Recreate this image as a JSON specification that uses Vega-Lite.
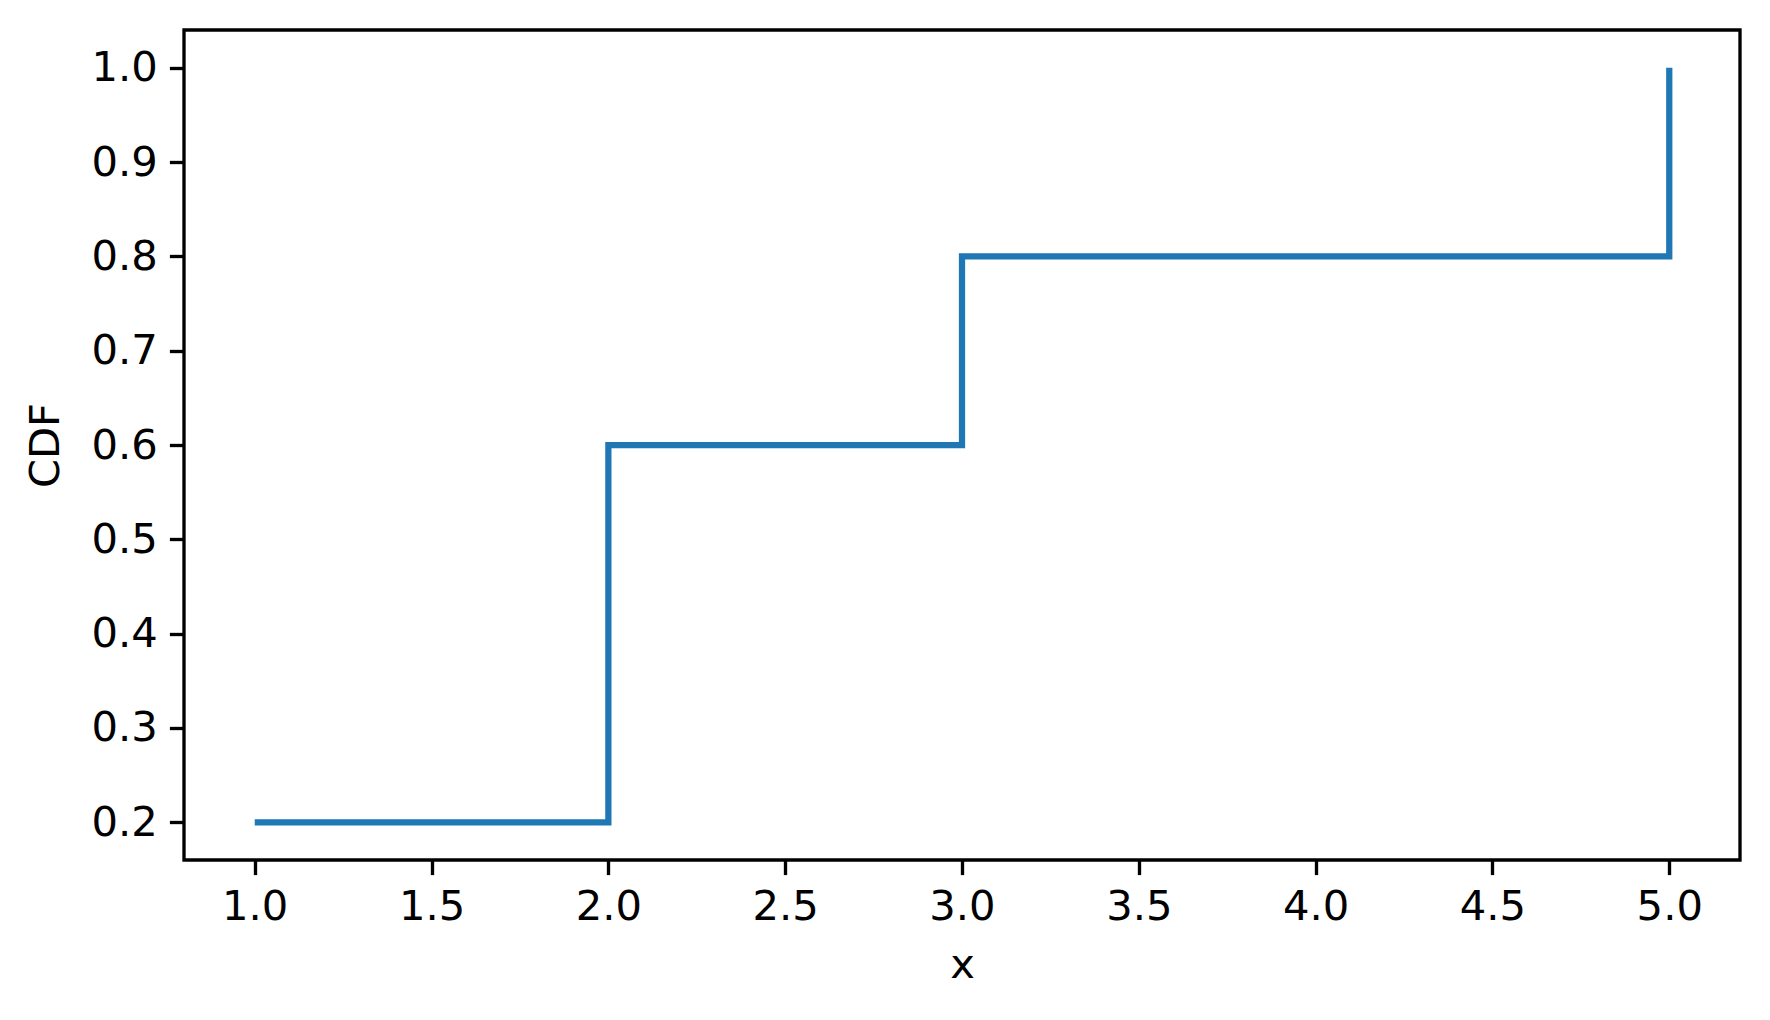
{
  "$schema": "https://vega.github.io/schema/vega-lite/v6.json",
  "autosize": "none",
  "width": 1556,
  "height": 830,
  "padding": {"left": 184, "top": 30, "right": 30, "bottom": 160},
  "background": "white",
  "data": {"values": [
    {"x": 1, "cdf": 0.2},
    {"x": 2, "cdf": 0.6},
    {"x": 3, "cdf": 0.8},
    {"x": 5, "cdf": 1.0}
  ]},
  "mark": {"type": "line", "interpolate": "step-after", "color": "#1f77b4", "strokeWidth": 6.25, "strokeCap": "butt", "strokeJoin": "miter", "clip": true},
  "encoding": {
    "x": {"field": "x", "type": "quantitative", "scale": {"domain": [0.8, 5.2], "nice": false, "zero": false},
      "axis": {"title": "x", "values": [1, 1.5, 2, 2.5, 3, 3.5, 4, 4.5, 5], "format": ".1f", "titlePadding": 16}},
    "y": {"field": "cdf", "type": "quantitative", "scale": {"domain": [0.16, 1.04], "nice": false, "zero": false},
      "axis": {"title": "CDF", "values": [0.2, 0.3, 0.4, 0.5, 0.6, 0.7, 0.8, 0.9, 1.0], "format": ".1f", "titlePadding": 24}}
  },
  "config": {
    "view": {"stroke": "black", "strokeWidth": 3.33},
    "axis": {
      "grid": false,
      "domain": false,
      "ticks": true,
      "tickColor": "black",
      "tickWidth": 3.33,
      "tickSize": 14.6,
      "labelPadding": 12,
      "labelFont": "DejaVu Sans",
      "labelFontSize": 41.7,
      "labelColor": "black",
      "titleFont": "DejaVu Sans",
      "titleFontSize": 41.7,
      "titleFontWeight": "normal",
      "titleColor": "black"
    }
  }
}
